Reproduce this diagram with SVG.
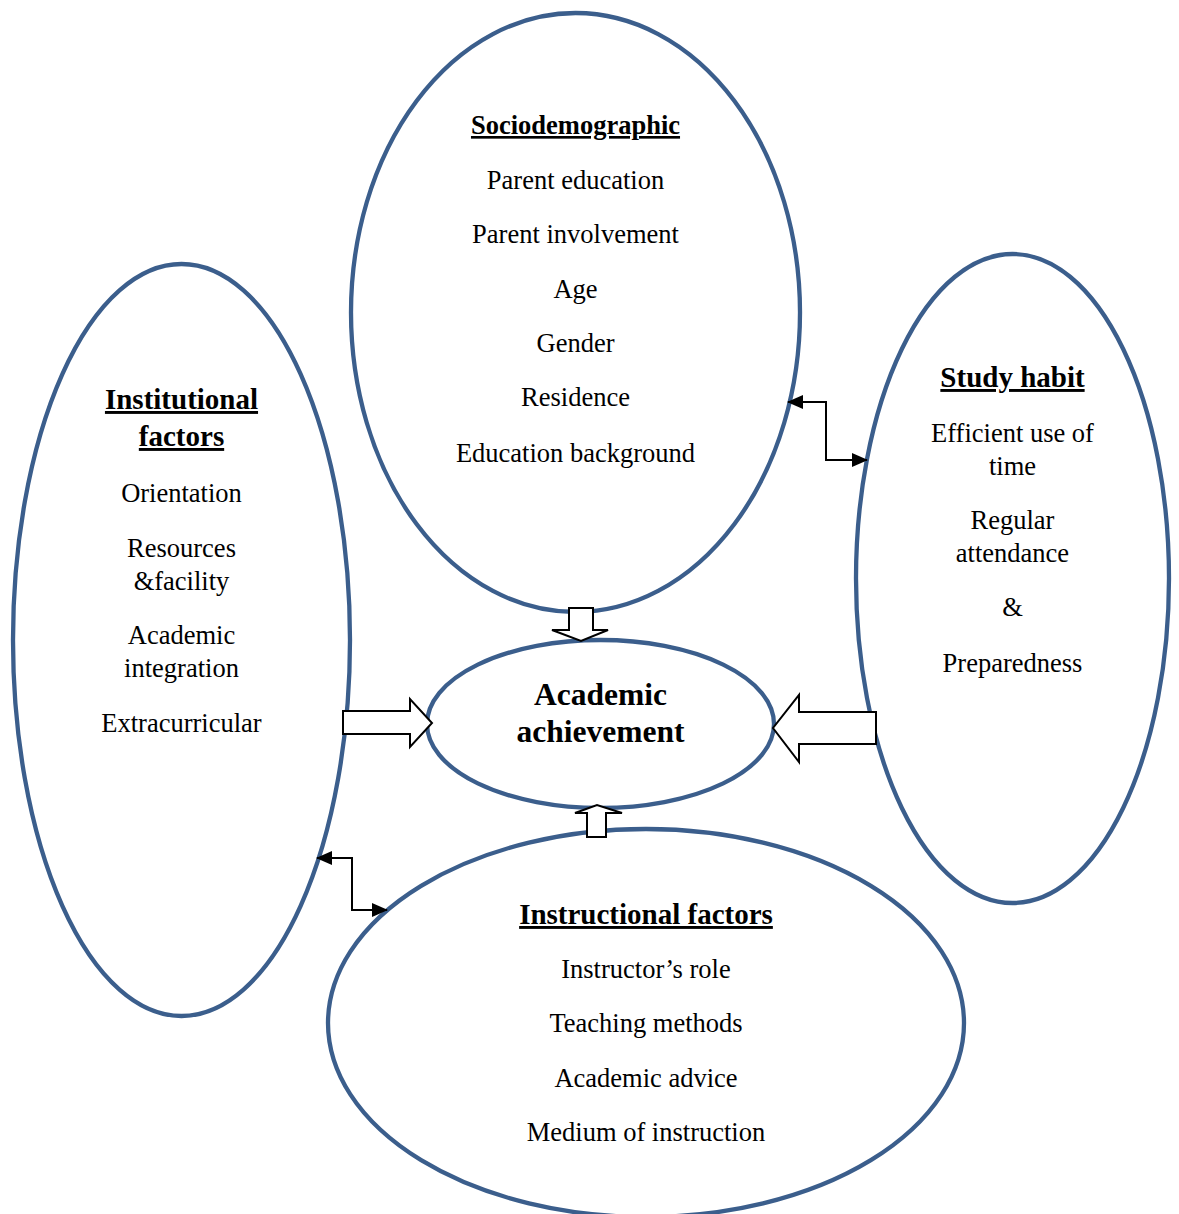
<svg xmlns="http://www.w3.org/2000/svg" width="1179" height="1214" viewBox="0 0 1179 1214">
<style>
.ell{fill:#ffffff;stroke:#3B5E8C;stroke-width:4.3}
.t{font-family:"Liberation Serif","Times New Roman",serif;font-size:26.5px;fill:#000;text-anchor:middle}
.h{font-family:"Liberation Serif","Times New Roman",serif;font-size:29px;font-weight:bold;fill:#000;text-anchor:middle;text-decoration:underline}
.big{font-family:"Liberation Serif","Times New Roman",serif;font-size:31.5px;font-weight:bold;fill:#000;text-anchor:middle}
.blk{fill:#ffffff;stroke:#000;stroke-width:2;stroke-linejoin:miter}
.con{fill:none;stroke:#000;stroke-width:2}
</style>
<defs>
<marker id="ah" markerUnits="userSpaceOnUse" markerWidth="16" markerHeight="14" refX="15" refY="7" orient="auto-start-reverse" viewBox="0 0 16 14">
<path d="M0,0 L16,7 L0,14 z" fill="#000"/>
</marker>
</defs>
<rect width="1179" height="1214" fill="#ffffff"/>
<g id="sociodemographic">
<ellipse class="ell" cx="575.5" cy="312.5" rx="224.5" ry="299.5"/>
<text class="h" x="575.5" y="134" style="font-size:26.5px">Sociodemographic</text>
<text class="t" x="575.5" y="189">Parent education</text>
<text class="t" x="575.5" y="243">Parent involvement</text>
<text class="t" x="575.5" y="298">Age</text>
<text class="t" x="575.5" y="352">Gender</text>
<text class="t" x="575.5" y="406">Residence</text>
<text class="t" x="575.5" y="462">Education background</text>
</g>
<g id="institutional">
<ellipse class="ell" cx="181.5" cy="640" rx="168.5" ry="376"/>
<text class="h" x="181.5" y="409">Institutional</text>
<text class="h" x="181.5" y="446">factors</text>
<text class="t" x="181.5" y="502">Orientation</text>
<text class="t" x="181.5" y="557">Resources</text>
<text class="t" x="181.5" y="590">&amp;facility</text>
<text class="t" x="181.5" y="644">Academic</text>
<text class="t" x="181.5" y="677">integration</text>
<text class="t" x="181.5" y="732">Extracurricular</text>
</g>
<g id="studyhabit">
<ellipse class="ell" cx="1012.5" cy="578.5" rx="156.5" ry="324.5"/>
<text class="h" x="1012.5" y="387">Study habit</text>
<text class="t" x="1012.5" y="442">Efficient use of</text>
<text class="t" x="1012.5" y="475">time</text>
<text class="t" x="1012.5" y="529">Regular</text>
<text class="t" x="1012.5" y="562">attendance</text>
<text class="t" x="1012.5" y="616">&amp;</text>
<text class="t" x="1012.5" y="672">Preparedness</text>
</g>
<g id="instructional">
<ellipse class="ell" cx="646" cy="1023" rx="318" ry="194"/>
<text class="h" x="646" y="924">Instructional factors</text>
<text class="t" x="646" y="978">Instructor’s role</text>
<text class="t" x="646" y="1032">Teaching methods</text>
<text class="t" x="646" y="1087">Academic advice</text>
<text class="t" x="646" y="1141">Medium of instruction</text>
</g>
<g id="achievement">
<ellipse class="ell" cx="600.5" cy="724" rx="173.5" ry="84"/>
<text class="big" x="600.5" y="705">Academic</text>
<text class="big" x="600.5" y="742">achievement</text>
</g>
<g id="connectors">
<path class="blk" d="M569,608 H593 V630 H608 L581,641 L552,630 H569 Z"/>
<path class="blk" d="M343,711 H410 V699 L432,723 L410,747 V734 H343 Z"/>
<path class="blk" d="M876,712 H799 V695 L773,728 L799,762 V744 H876 Z"/>
<path class="blk" d="M587,837 V813 H575 L597,805 L622,813 H606 V837 Z"/>
<path class="con" d="M788,402 H826 V460 H867" marker-start="url(#ah)" marker-end="url(#ah)"/>
<path class="con" d="M317,858 H352 V910 H387" marker-start="url(#ah)" marker-end="url(#ah)"/>
</g>
</svg>
